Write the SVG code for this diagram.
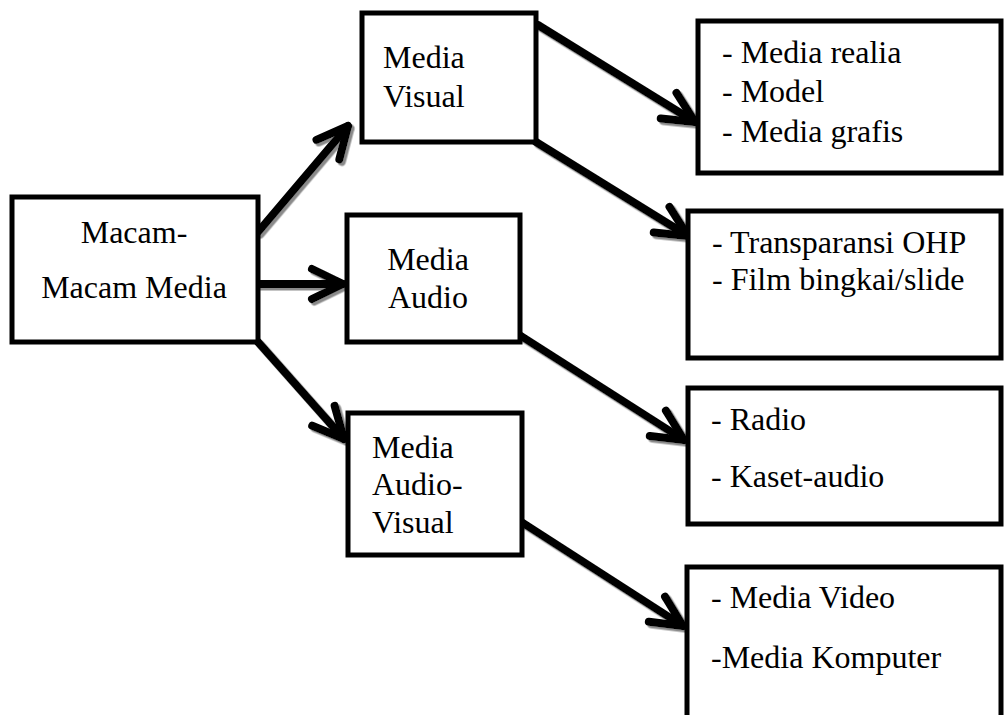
<svg xmlns="http://www.w3.org/2000/svg" width="1004" height="715" viewBox="0 0 1004 715">
  <style>
    .box { fill: #fff; stroke: #000; stroke-width: 5; }
    .lbl { font-family: "Liberation Serif", "Times New Roman", serif; font-size: 32px; fill: #000; }
    .mid { text-anchor: middle; }
    .link { fill: none; stroke: #000; stroke-width: 8; stroke-linecap: round; marker-end: url(#chevron); }
  </style>
  <defs>
    <marker id="chevron" viewBox="-40 -20 44 40" refX="0" refY="0" markerWidth="44" markerHeight="40" markerUnits="userSpaceOnUse" orient="auto" overflow="visible">
      <path d="M-31,-15 L0,0 L-31,15" fill="none" stroke="#000" stroke-width="8" stroke-linecap="round" stroke-linejoin="round"/>
    </marker>
    <filter id="shade" x="-10%" y="-10%" width="120%" height="120%">
      <feDropShadow dx="2.5" dy="2.5" stdDeviation="0.4" flood-color="#8a8a8a" flood-opacity="1"/>
    </filter>
  </defs>

  <rect width="1004" height="715" fill="#fff"/>

  <!-- connectors -->
  <g id="connectors" filter="url(#shade)">
    <path class="link" d="M258,232 L348,126"/>
    <path class="link" d="M258,284 L343,284"/>
    <path class="link" d="M258,342 L344,439"/>
    <path class="link" d="M538,25 L695,122"/>
    <path class="link" d="M536,142 L688,236"/>
    <path class="link" d="M521,336 L684,440"/>
    <path class="link" d="M523,523 L683,626"/>
  </g>

  <!-- root node -->
  <g id="macam-media">
    <rect class="box" x="12" y="197" width="246" height="145"/>
    <text class="lbl mid" x="134" y="243">Macam-</text>
    <text class="lbl mid" x="134" y="298">Macam Media</text>
  </g>

  <!-- category nodes -->
  <g id="media-visual">
    <rect class="box" x="362" y="13" width="174" height="129"/>
    <text class="lbl" x="383" y="68">Media</text>
    <text class="lbl" x="383" y="107">Visual</text>
  </g>

  <g id="media-audio">
    <rect class="box" x="347" y="215" width="173" height="127"/>
    <text class="lbl mid" x="428" y="270">Media</text>
    <text class="lbl mid" x="428" y="308">Audio</text>
  </g>

  <g id="media-audio-visual">
    <rect class="box" x="348" y="413" width="174" height="142"/>
    <text class="lbl" x="372" y="458">Media</text>
    <text class="lbl" x="372" y="495">Audio-</text>
    <text class="lbl" x="372" y="533">Visual</text>
  </g>

  <!-- example lists -->
  <g id="visual-examples-1">
    <rect class="box" x="698" y="21" width="303" height="152"/>
    <text class="lbl" x="722" y="63">- Media realia</text>
    <text class="lbl" x="722" y="102">- Model</text>
    <text class="lbl" x="722" y="142">- Media grafis</text>
  </g>

  <g id="visual-examples-2">
    <rect class="box" x="688" y="211" width="313" height="147"/>
    <text class="lbl" x="712" y="253">- Transparansi OHP</text>
    <text class="lbl" x="712" y="290">- Film bingkai/slide</text>
  </g>

  <g id="audio-examples">
    <rect class="box" x="688" y="388" width="313" height="136"/>
    <text class="lbl" x="711" y="430">- Radio</text>
    <text class="lbl" x="711" y="487">- Kaset-audio</text>
  </g>

  <g id="audio-visual-examples">
    <rect class="box" x="687" y="567" width="314" height="160"/>
    <text class="lbl" x="711" y="608">- Media Video</text>
    <text class="lbl" x="711" y="668">-Media Komputer</text>
  </g>
</svg>
